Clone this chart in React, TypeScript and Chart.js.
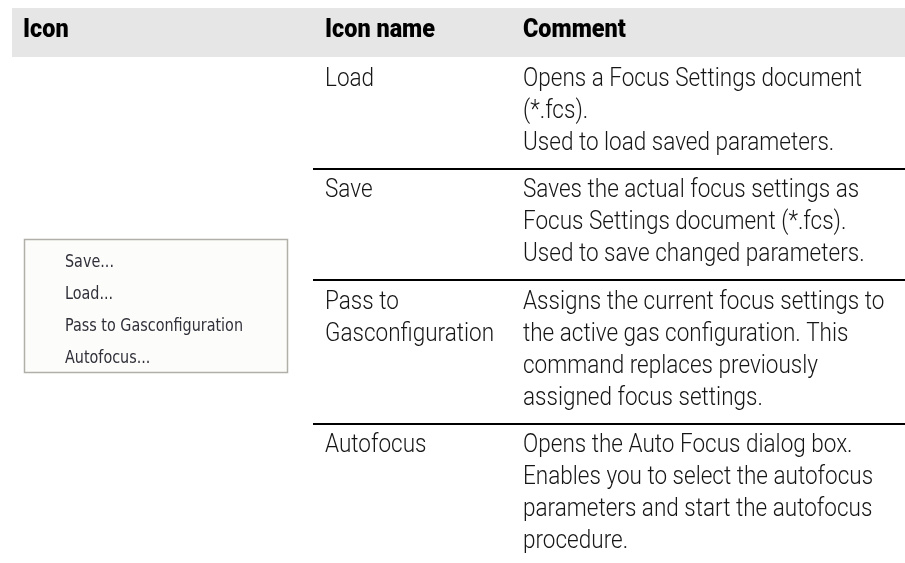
import { useEffect, useRef } from "react";
import { Chart, registerables } from "chart.js";

Chart.register(...registerables);

// ---- data ----
const headers = ["Icon", "Icon name", "Comment"];
const iconNames = [["Load"], ["Save"], ["Pass to", "Gasconfiguration"], ["Autofocus"]];
const comments = [
  ["Opens a Focus Settings document", "(*.fcs).", "Used to load saved parameters."],
  ["Saves the actual focus settings as", "Focus Settings document (*.fcs).", "Used to save changed parameters."],
  [
    "Assigns the current focus settings to",
    "the active gas configuration. This",
    "command replaces previously",
    "assigned focus settings.",
  ],
  [
    "Opens the Auto Focus dialog box.",
    "Enables you to select the autofocus",
    "parameters and start the autofocus",
    "procedure.",
  ],
];
const menuItems = ["Save...", "Load...", "Pass to Gasconfiguration", "Autofocus..."];

// ---- layout (style, not data) ----
const W = 905;
const H = 563;
const HEADER_TOP = 8;
const HEADER_BOTTOM = 57;
const HEADER_LEFT = 12;
const HEADER_BASELINE = 37;
const COL_X = [23, 325, 523];
const RULE_LEFT = 313;
const LINE_H = 32;
const ROW_BASE_OFFSET = 28.5;
const ROW_EXTRA = 15.5;
const MENU_BOX = { x0: 24, x1: 288, y0: 239, y1: 373 };
const MENU_TEXT_X = 65;
const MENU_FIRST_BASELINE = 267;
const MENU_STEP = 32;

const BODY_FONT = "300 26px Roboto";
const HEAD_FONT = "900 26px Roboto";
const MENU_FONT = "18px 'DejaVu Sans'";

function rowLayout() {
  const tops: number[] = [];
  let y = HEADER_BOTTOM;
  const counts = comments.map((c, i) => Math.max(c.length, iconNames[i].length));
  counts.forEach((n) => {
    tops.push(y);
    y += n * LINE_H + ROW_EXTRA;
  });
  return { tops, end: y };
}

export default function App() {
  const ref = useRef<HTMLCanvasElement | null>(null);

  useEffect(() => {
    const canvas = ref.current;
    if (!canvas) return;
    const { tops } = rowLayout();
    const boundaries = tops.slice(1);

    const ruleSets = boundaries.map((b) => ({
      type: "line" as const,
      data: [
        { x: RULE_LEFT, y: Math.round(b) },
        { x: W, y: Math.round(b) },
      ],
      borderColor: "#000000",
      borderWidth: 2,
      pointRadius: 0,
      fill: false,
    }));

    const drawScaled = (
      ctx: CanvasRenderingContext2D,
      text: string,
      x: number,
      y: number,
      sx: number
    ) => {
      ctx.save();
      ctx.translate(x, y);
      ctx.scale(sx, 1);
      ctx.fillText(text, 0, 0);
      ctx.restore();
    };

    const tablePlugin = {
      id: "tablePlugin",
      beforeDatasetsDraw(chart: any) {
        const ctx: CanvasRenderingContext2D = chart.ctx;
        const xs = chart.scales.x;
        const ys = chart.scales.y;
        ctx.save();
        // header band
        const hx0 = xs.getPixelForValue(HEADER_LEFT);
        const hx1 = xs.getPixelForValue(W);
        const hy0 = ys.getPixelForValue(HEADER_TOP);
        const hy1 = ys.getPixelForValue(HEADER_BOTTOM);
        ctx.fillStyle = "#e6e6e6";
        ctx.fillRect(hx0, hy0, hx1 - hx0, hy1 - hy0);

        // menu screenshot box
        const mx0 = xs.getPixelForValue(MENU_BOX.x0);
        const mx1 = xs.getPixelForValue(MENU_BOX.x1);
        const my0 = ys.getPixelForValue(MENU_BOX.y0);
        const my1 = ys.getPixelForValue(MENU_BOX.y1);
        ctx.fillStyle = "#fcfcfa";
        ctx.fillRect(mx0, my0, mx1 - mx0, my1 - my0);
        ctx.strokeStyle = "#b0b0a8";
        ctx.lineWidth = 1.5;
        ctx.strokeRect(mx0 + 0.5, my0 + 0.5, mx1 - mx0 - 1, my1 - my0 - 1);
        ctx.restore();
      },
      afterDatasetsDraw(chart: any) {
        const ctx: CanvasRenderingContext2D = chart.ctx;
        const xs = chart.scales.x;
        const ys = chart.scales.y;
        ctx.save();
        ctx.textBaseline = "alphabetic";
        ctx.textAlign = "left";

        // headers
        ctx.font = HEAD_FONT;
        ctx.fillStyle = "#000000";
        const hsx = 110 / ctx.measureText(headers[1]).width;
        headers.forEach((h, i) => {
          drawScaled(ctx, h, xs.getPixelForValue(COL_X[i]), ys.getPixelForValue(HEADER_BASELINE), hsx);
        });

        // body
        ctx.font = BODY_FONT;
        ctx.fillStyle = "#161616";
        const bsx = 339 / ctx.measureText(comments[0][0]).width;
        tops.forEach((top, r) => {
          iconNames[r].forEach((t, k) => {
            drawScaled(
              ctx,
              t,
              xs.getPixelForValue(COL_X[1]),
              ys.getPixelForValue(top + ROW_BASE_OFFSET + k * LINE_H),
              bsx
            );
          });
          comments[r].forEach((t, k) => {
            drawScaled(
              ctx,
              t,
              xs.getPixelForValue(COL_X[2]),
              ys.getPixelForValue(top + ROW_BASE_OFFSET + k * LINE_H),
              bsx
            );
          });
        });

        // menu items
        ctx.font = MENU_FONT;
        ctx.fillStyle = "#30303a";
        const msx = 178 / ctx.measureText(menuItems[2]).width;
        menuItems.forEach((m, i) => {
          drawScaled(
            ctx,
            m,
            xs.getPixelForValue(MENU_TEXT_X),
            ys.getPixelForValue(MENU_FIRST_BASELINE + i * MENU_STEP),
            msx
          );
        });
        ctx.restore();
      },
    };

    const chart = new Chart(canvas, {
      type: "line",
      data: { datasets: ruleSets as any },
      options: {
        animation: false,
        responsive: false,
        devicePixelRatio: 1,
        layout: { padding: 0 },
        parsing: false as any,
        scales: {
          x: { type: "linear", min: 0, max: W, display: false },
          y: { type: "linear", min: 0, max: H, reverse: true, display: false },
        },
        plugins: {
          legend: { display: false },
          tooltip: { enabled: false },
        },
        events: [],
      },
      plugins: [tablePlugin],
    });
    return () => chart.destroy();
  }, []);

  return (
    <div style={{ position: "fixed", left: 0, top: 0, width: W, height: H, background: "#ffffff" }}>
      <canvas ref={ref} width={W} height={H} style={{ display: "block" }} />
    </div>
  );
}
